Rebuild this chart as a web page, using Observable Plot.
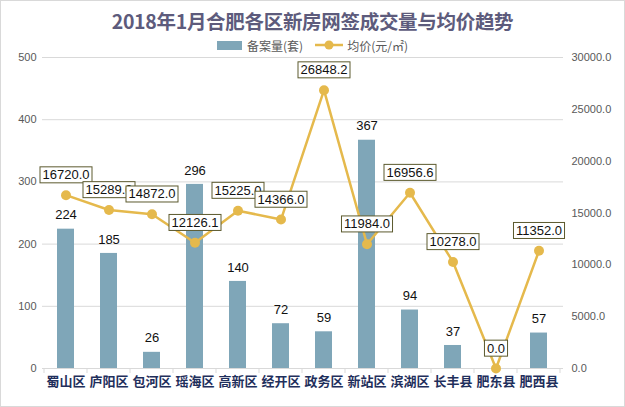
<!DOCTYPE html>
<html>
<head>
<meta charset="utf-8">
<script src="https://cdn.jsdelivr.net/npm/d3@7"></script>
<script src="https://cdn.jsdelivr.net/npm/@observablehq/plot@0.6"></script>
<style>
  html, body { margin: 0; padding: 0; background: #fff; }
  #wrap { width: 625px; height: 407px; box-sizing: border-box; border: 1px solid #d9d9d9; position: relative; overflow: hidden; font-family: "Liberation Sans", Arial, "Noto Sans CJK SC", sans-serif; }
  #title { height: 37px; line-height: 40px; text-align: center; font-family: "Noto Sans CJK SC", sans-serif; font-weight: bold; font-size: 19.5px; color: #5d5b7c; letter-spacing: -0.3px; }
  #legend { height: 14px; display: flex; justify-content: center; align-items: center; font-size: 12px; color: #595959; font-family: "Noto Sans CJK SC", sans-serif; }
  .item { display: flex; align-items: center; margin: 0 6px; }
  .sw { width: 25px; height: 9px; background: #7fa6b8; margin-right: 5px; }
  svg.lg { margin-right: 4px; }
</style>
</head>
<body>
<div id="wrap">
  <div id="title">2018年1月合肥各区新房网签成交量与均价趋势</div>
  <div id="legend">
    <div class="item"><div class="sw"></div><span>备案量(套)</span></div>
    <div class="item"><svg class="lg" width="28" height="12"><line x1="0" y1="6" x2="28" y2="6" stroke="#e5b94c" stroke-width="2.5"/><circle cx="14" cy="6" r="4.5" fill="#e5b94c"/></svg><span>均价(元/㎡)</span></div>
  </div>
  <div id="chart"></div>
</div>
<script>
const categories = ["蜀山区","庐阳区","包河区","瑶海区","高新区","经开区","政务区","新站区","滨湖区","长丰县","肥东县","肥西县"];
const units = [224,185,26,296,140,72,59,367,94,37,0,57];
const prices = [16720.0,15289.0,14872.0,12126.1,15225.0,14366.0,26848.2,11984.0,16956.6,10278.0,0.0,11352.0];
const leftTicks = [0,100,200,300,400,500];
const rightTicks = [0,5000,10000,15000,20000,25000,30000];

const ratio = d3.max(rightTicks) / d3.max(leftTicks);
const rows = categories.map((c, i) => ({c, units: units[i], price: prices[i]}));

const barColor = "#7fa6b8";
const lineColor = "#e5b94c";

const chart = Plot.plot({
  width: 623, height: 354,
  marginTop: 5, marginBottom: 38, marginLeft: 41, marginRight: 61,
  x: {domain: categories, paddingInner: 0.6, paddingOuter: 0.3},
  y: {domain: [0, d3.max(leftTicks)]},
  style: {fontFamily: "'Liberation Sans', Arial, sans-serif", fontSize: "11px", color: "#595959", background: "transparent", overflow: "visible"},
  marks: [
    Plot.gridY(leftTicks, {stroke: "#d9d9d9", strokeOpacity: 1}),
    Plot.axisY({ticks: leftTicks, tickSize: 0, tickPadding: 6, label: null, fontSize: 11}),
    Plot.axisY({anchor: "right", ticks: rightTicks.map(v => v / ratio), tickFormat: d => (d * ratio).toFixed(1), tickSize: 0, tickPadding: 8, label: null, fontSize: 11}),
    Plot.axisX({tickSize: 0, tickPadding: 8, label: null, fontSize: 13, fontWeight: "bold", color: "#1f2f5c", fontFamily: "'Noto Sans CJK SC', sans-serif"}),
    Plot.barY(rows, {x: "c", y: "units", fill: barColor}),
    Plot.text(rows.filter(d => d.units > 0), {x: "c", y: "units", text: d => String(d.units), dy: -14, fontSize: 13, fill: "#111"}),
    Plot.line(rows, {x: "c", y: d => d.price / ratio, stroke: lineColor, strokeWidth: 2.5}),
    Plot.dot(rows, {x: "c", y: d => d.price / ratio, r: 5, fill: lineColor}),
    Plot.text(rows, {x: "c", y: d => d.price / ratio, text: d => d.price.toFixed(1), dy: -20, fontSize: 13, fill: "#111", ariaLabel: () => "price-label"})
  ]
});
document.getElementById("chart").appendChild(chart);

const ns = "http://www.w3.org/2000/svg";

// category boundary tick marks on the x axis, from Plot's own band scale
const xs = chart.scale("x");
const ys = chart.scale("y");
const y0 = ys.apply(0);
const half = (xs.step - xs.bandwidth) / 2;
const bounds = categories.map(c => xs.apply(c) - half).concat([xs.apply(categories[categories.length - 1]) + xs.bandwidth + half]);
const tg = document.createElementNS(ns, "g");
bounds.forEach(x => {
  const l = document.createElementNS(ns, "line");
  l.setAttribute("x1", x); l.setAttribute("x2", x);
  l.setAttribute("y1", y0); l.setAttribute("y2", y0 + 5);
  l.setAttribute("stroke", "#d9d9d9");
  tg.appendChild(l);
});
chart.appendChild(tg);

// boxes behind the price labels, sized from the rendered text
const labels = chart.querySelectorAll('text[aria-label="price-label"], g[aria-label="price-label"] text');
labels.forEach(t => {
  const b = t.getBBox();
  const r = document.createElementNS(ns, "rect");
  r.setAttribute("x", b.x - 2.5);
  r.setAttribute("y", b.y - 0.5);
  r.setAttribute("width", b.width + 5);
  r.setAttribute("height", b.height + 1);
  r.setAttribute("fill", "#fff");
  r.setAttribute("stroke", "#5c5a2e");
  r.setAttribute("stroke-width", 1);
  const tr = t.getAttribute("transform");
  if (tr) r.setAttribute("transform", tr);
  t.parentNode.insertBefore(r, t);
});
</script>
</body>
</html>
